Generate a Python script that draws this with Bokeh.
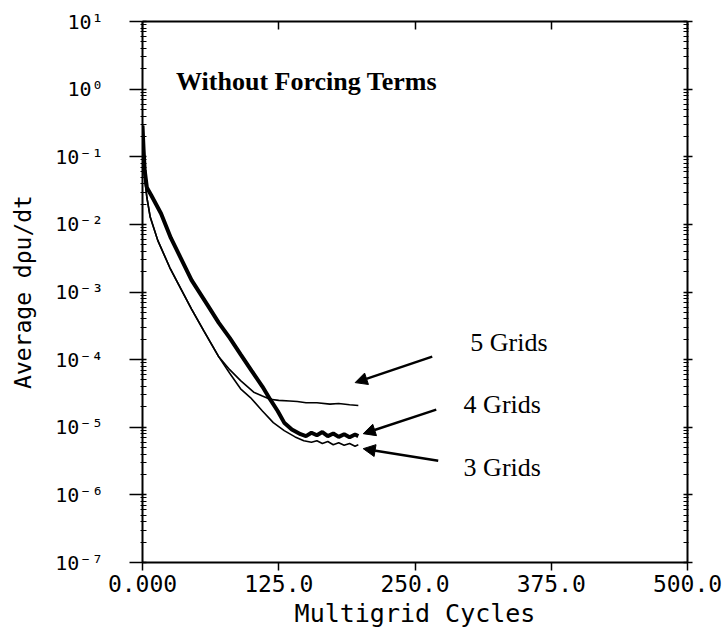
from bokeh.plotting import figure
from bokeh.models import (LinearAxis, LogAxis, FixedTicker, CustomJSTickFormatter,
                          Arrow, NormalHead, Range1d)
from bokeh.core.properties import value
from bokeh.embed import file_html
from bokeh.resources import INLINE

# Average residual history vs. multigrid cycles, without forcing terms
grid5_cycles = [0, 1, 2, 4, 7, 14, 25, 31, 45, 56, 70, 80, 90, 102, 110, 117, 125,
                135, 142, 150, 160, 172, 180, 190, 198]
grid5_resid = [2.9e-1, 1.0e-1, 5.0e-2, 2.5e-2, 1.3e-2, 5.8e-3, 2.3e-3, 1.5e-3, 5.6e-4,
               2.7e-4, 1.1e-4, 7.1e-5, 4.9e-5, 3.3e-5, 2.9e-5, 2.6e-5, 2.5e-5,
               2.45e-5, 2.4e-5, 2.3e-5, 2.3e-5, 2.2e-5, 2.25e-5, 2.15e-5, 2.1e-5]

grid4_cycles = [0, 1, 2, 4, 8, 17, 26, 35, 45, 60, 70, 80, 90, 100, 110, 117, 124, 130,
                137, 145, 150, 155, 160, 165, 170, 175, 180, 185, 190, 195, 198]
grid4_resid = [2.9e-1, 1.26e-1, 6.3e-2, 3.5e-2, 2.7e-2, 1.45e-2, 6.3e-3, 3.2e-3, 1.5e-3,
               6.3e-4, 3.5e-4, 2.1e-4, 1.2e-4, 6.9e-5, 4.0e-5, 2.6e-5, 1.74e-5, 1.17e-5,
               9.3e-6, 7.9e-6, 7.4e-6, 8.3e-6, 7.6e-6, 8.5e-6, 7.4e-6, 8.1e-6, 7.2e-6,
               7.9e-6, 7.1e-6, 7.8e-6, 7.4e-6]

grid3_cycles = [0, 1, 2, 4, 7, 14, 25, 31, 45, 56, 70, 80, 90, 99, 110, 120, 130, 140,
                148, 155, 160, 165, 170, 175, 180, 185, 190, 195, 198]
grid3_resid = [2.9e-1, 1.0e-1, 5.0e-2, 2.5e-2, 1.3e-2, 5.8e-3, 2.3e-3, 1.5e-3, 5.6e-4,
               2.7e-4, 1.1e-4, 6.3e-5, 3.7e-5, 2.75e-5, 1.74e-5, 1.17e-5, 8.9e-6, 7.2e-6,
               6.3e-6, 6.0e-6, 6.3e-6, 5.75e-6, 6.15e-6, 5.5e-6, 5.9e-6, 5.4e-6, 5.75e-6,
               5.25e-6, 5.5e-6]

x_ticks = [0, 125, 250, 375, 500]
x_labels = ["0.000", "125.0", "250.0", "375.0", "500.0"]
y_ticks = [1e-7, 1e-6, 1e-5, 1e-4, 1e-3, 1e-2, 1e-1, 1e0, 1e1]
y_labels = ["10⁻⁷", "10⁻⁶", "10⁻⁵", "10⁻⁴", "10⁻³", "10⁻²", "10⁻¹", "10⁰", "10¹"]
y_minor = [k * t for t in y_ticks[:-1] for k in range(2, 10)]

title_text = "Without Forcing Terms"
series_names = ["5 Grids", "4 Grids", "3 Grids"]

MONO = "DejaVu Sans Mono"
SERIF = "Liberation Serif"

p = figure(width=726, height=641, y_axis_type="log",
           x_range=Range1d(0, 500), y_range=Range1d(1e-7, 10),
           output_backend="svg", toolbar_location=None,
           min_border_left=142, min_border_right=39,
           min_border_top=21, min_border_bottom=79,
           x_axis_label="Multigrid Cycles", y_axis_label="Average dρu/dt")
p.grid.visible = False
p.outline_line_color = None
p.background_fill_color = "white"
p.border_fill_color = "white"

x_fmt = CustomJSTickFormatter(args=dict(vals=x_ticks, labs=x_labels), code="""
    const i = vals.findIndex(v => Math.abs(v - tick) < 1e-6);
    return i >= 0 ? labs[i] : "";
""")
y_fmt = CustomJSTickFormatter(args=dict(vals=y_ticks, labs=y_labels), code="""
    const i = vals.findIndex(v => Math.abs(Math.log10(v) - Math.log10(tick)) < 1e-6);
    return i >= 0 ? labs[i] : "";
""")
blank_fmt = CustomJSTickFormatter(code="return ' ';")

xa = p.xaxis[0]
xa.ticker = FixedTicker(ticks=x_ticks)
xa.formatter = x_fmt
xa.major_tick_out = 8
xa.major_tick_in = 0
xa.minor_tick_out = 0
xa.minor_tick_in = 0
xa.major_label_standoff = 4
xa.major_label_text_font = MONO
xa.major_label_text_font_size = "23px"
xa.axis_label_text_font = MONO
xa.axis_label_text_font_size = "25px"
xa.axis_label_text_font_style = "normal"
xa.axis_label_standoff = 4

ya = p.yaxis[0]
ya.ticker = FixedTicker(ticks=y_ticks, minor_ticks=y_minor)
ya.formatter = y_fmt
ya.major_tick_out = 13
ya.major_tick_in = 4
ya.minor_tick_out = 2
ya.minor_tick_in = 4
ya.major_label_standoff = 26
ya.major_label_text_font = MONO
ya.major_label_text_font_size = "20px"
ya.axis_label_text_font = MONO
ya.axis_label_text_font_size = "23px"
ya.axis_label_text_font_style = "normal"
ya.axis_label_standoff = 16

for ax in (xa, ya):
    ax.axis_line_width = 2
    ax.axis_line_color = "black"
    ax.major_tick_line_color = "black"
    ax.major_tick_line_width = 1.5
    ax.minor_tick_line_color = "black"
    ax.major_label_text_color = "black"
    ax.axis_label_text_color = "black"

# mirrored frame axes (ticks only)
top = LinearAxis(ticker=FixedTicker(ticks=x_ticks), formatter=blank_fmt,
                 major_tick_in=8, major_tick_out=0,
                 minor_tick_in=0, minor_tick_out=0, axis_line_width=2,
                 major_tick_line_width=1.5, major_label_text_font_size="4px",
                 major_label_standoff=0)
right = LogAxis(ticker=FixedTicker(ticks=y_ticks, minor_ticks=y_minor),
                formatter=blank_fmt,
                major_tick_in=4, major_tick_out=5, minor_tick_in=4, minor_tick_out=1,
                axis_line_width=2, major_tick_line_width=1.5,
                major_label_text_font_size="4px", major_label_standoff=0)
p.add_layout(top, "above")
p.add_layout(right, "right")

# residual curves
p.line(grid5_cycles, grid5_resid, line_color="black", line_width=1.6)
p.line(grid3_cycles, grid3_resid, line_color="black", line_width=1.6)
p.line(grid4_cycles, grid4_resid, line_color="black", line_width=4)

# annotations
p.text(x=[30.8], y=[1.3], text=[title_text], text_font=value(SERIF),
       text_font_size="26px", text_font_style="bold", text_color="black",
       text_baseline="alphabetic", text_align="left")

label_x = [300.7, 294.6, 294.6]
label_y = [1.8e-4, 2.2e-5, 2.5e-6]
p.text(x=label_x, y=label_y, text=series_names, text_font=value(SERIF),
       text_font_size="26px", text_color="black",
       text_baseline="alphabetic", text_align="left")

arrow_start_x = [265.8, 269.5, 271.3]
arrow_start_y = [1.107e-4, 1.82e-5, 3.2e-6]
arrow_end_x = [195.1, 202.5, 202.5]
arrow_end_y = [4.57e-5, 8.03e-6, 4.82e-6]
for xs, ys, xe, ye in zip(arrow_start_x, arrow_start_y, arrow_end_x, arrow_end_y):
    p.add_layout(Arrow(x_start=xs, y_start=ys, x_end=xe, y_end=ye,
                       line_width=2.5, line_color="black",
                       end=NormalHead(size=12, fill_color="black",
                                      line_color="black", line_width=1)))

open("out.html", "w").write(file_html(p, INLINE))
